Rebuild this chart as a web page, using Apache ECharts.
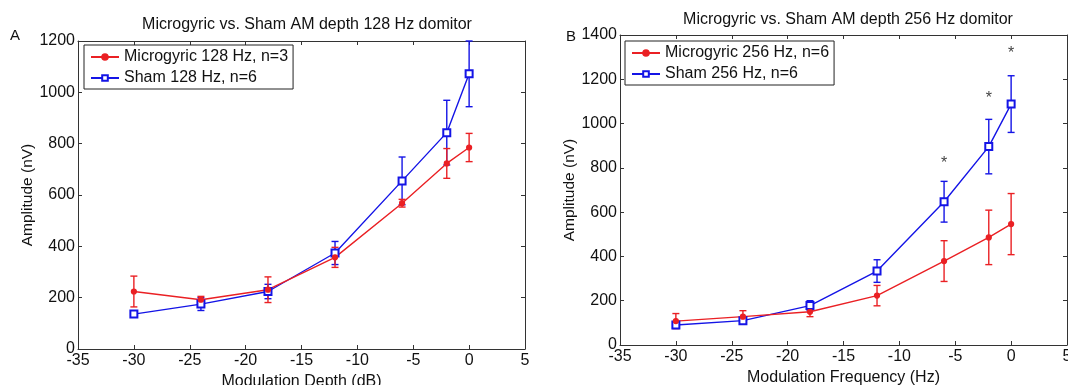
<!DOCTYPE html>
<html><head><meta charset="utf-8">
<script src="https://cdn.jsdelivr.net/npm/echarts@6/dist/echarts.min.js"></script>
<style>html,body{margin:0;padding:0;background:#fff}#c{width:1068px;height:385px}</style>
</head><body><div id="c"></div>
<script>
const xVals = [-30, -24, -18, -12, -6, -2, 0];
const xTicks = [-35, -30, -25, -20, -15, -10, -5, 0, 5];
const mg128 = [224, 192, 231, 357, 568, 723, 785];
const mg128Err = [60, 13, 50, 39, 15, 58, 55];
const sh128 = [136, 175, 224, 374, 655, 843, 1072];
const sh128Err = [8, 25, 28, 45, 93, 126, 128];
const mg256 = [108, 128, 150, 223, 379, 486, 546];
const mg256Err = [34, 27, 22, 46, 92, 123, 138];
const sh256 = [90, 110, 178, 334, 647, 896, 1088];
const sh256Err = [8, 10, 22, 51, 92, 123, 128];
const starX = [-6, -2, 0];
const starY = [835, 1125, 1330];
const names = ['Microgyric 128 Hz, n=3', 'Sham 128 Hz, n=6', 'Microgyric 256 Hz, n=6', 'Sham 256 Hz, n=6'];
const titles = ['Microgyric vs. Sham AM depth 128 Hz domitor', 'Microgyric vs. Sham AM depth 256 Hz domitor'];

const RED = '#ea2024', BLUE = '#1414e6', AX = '#333';
const FONT = 'Liberation Sans, Arial, sans-serif';

const chart = echarts.init(document.getElementById('c'));

function xAx(gi, pos, labels, name) {
  return {
    type: 'value', gridIndex: gi, position: pos, min: xTicks[0], max: xTicks[xTicks.length - 1], interval: 5,
    axisLine: { show: true, onZero: false, lineStyle: { color: AX, width: 1 } },
    axisTick: { show: true, inside: true, length: 4, lineStyle: { color: AX } },
    axisLabel: { show: labels, margin: 4, fontSize: 16, color: '#111', fontFamily: FONT, showMinLabel: true, showMaxLabel: true, hideOverlap: false },
    splitLine: { show: false },
    name: name || '', nameLocation: 'middle', nameGap: 23,
    nameTextStyle: { fontSize: 16, color: '#111', fontFamily: FONT }
  };
}
function yAx(gi, pos, max, labels, name) {
  return {
    type: 'value', gridIndex: gi, position: pos, min: 0, max: max, interval: 200,
    axisLine: { show: true, onZero: false, lineStyle: { color: AX, width: 1 } },
    axisTick: { show: true, inside: true, length: 4, lineStyle: { color: AX } },
    axisLabel: { show: labels, margin: 3, fontSize: 16, color: '#111', fontFamily: FONT, formatter: v => String(v) },
    splitLine: { show: false },
    name: name || '', nameLocation: 'middle', nameGap: 33, nameRotate: 90,
    nameTextStyle: { fontSize: 15.5, color: '#111', fontFamily: FONT }
  };
}

function errSeries(xi, yi, vals, errs, color) {
  return {
    type: 'custom', xAxisIndex: xi, yAxisIndex: yi, z: 3, silent: true,
    data: xVals.map((x, i) => [x, vals[i], errs[i]]),
    encode: { x: 0, y: 1 },
    renderItem: function (params, api) {
      const x = api.value(0), y = api.value(1), e = api.value(2);
      const t = api.coord([x, y + e]), b = api.coord([x, y - e]);
      const w = 3.5, st = { stroke: color, lineWidth: 1.4 };
      return { type: 'group', children: [
        { type: 'line', shape: { x1: t[0], y1: t[1], x2: b[0], y2: b[1] }, style: st },
        { type: 'line', shape: { x1: t[0] - w, y1: t[1], x2: t[0] + w, y2: t[1] }, style: st },
        { type: 'line', shape: { x1: b[0] - w, y1: b[1], x2: b[0] + w, y2: b[1] }, style: st }
      ] };
    }
  };
}
function lineSeries(name, xi, yi, vals, color, sym, size) {
  return {
    name: name, type: 'line', xAxisIndex: xi, yAxisIndex: yi, z: 4,
    data: xVals.map((x, i) => [x, vals[i]]),
    symbol: sym, symbolSize: size, showAllSymbol: true,
    lineStyle: { color: color, width: 1.4 },
    itemStyle: { color: color, borderColor: color, borderWidth: 1.2 },
    emphasis: { disabled: true }
  };
}

const legendBase = {
  orient: 'vertical', selectedMode: false,
  borderColor: '#222', borderWidth: 1, backgroundColor: '#fff', padding: [4, 5, 3, 6], itemGap: 5,
  itemWidth: 28, itemHeight: 7, textStyle: { fontSize: 16, lineHeight: 16, color: '#111', fontFamily: FONT }
};

const option = {
  backgroundColor: '#fff',
  animation: false,
  textStyle: { fontFamily: FONT },
  title: [
    { text: titles[0], left: 302, top: 12, textAlign: 'center', textStyle: { fontSize: 16, fontWeight: 'normal', color: '#111', fontFamily: FONT } },
    { text: titles[1], left: 843, top: 7, textAlign: 'center', textStyle: { fontSize: 16, fontWeight: 'normal', color: '#111', fontFamily: FONT } }
  ],
  grid: [
    { left: 78, top: 41, width: 447, height: 308, show: false, containLabel: false, outerBoundsMode: 'none' },
    { left: 620, top: 35, width: 447, height: 310, show: false, containLabel: false, outerBoundsMode: 'none' }
  ],
  xAxis: [
    xAx(0, 'bottom', true, 'Modulation Depth (dB)'),
    xAx(0, 'top', false),
    xAx(1, 'bottom', true, 'Modulation Frequency (Hz)'),
    xAx(1, 'top', false)
  ],
  yAxis: [
    yAx(0, 'left', 1200, true, 'Amplitude (nV)'),
    yAx(0, 'right', 1200, false),
    yAx(1, 'left', 1400, true, 'Amplitude (nV)'),
    yAx(1, 'right', 1400, false)
  ],
  legend: [
    Object.assign({ data: [names[0], names[1]], left: 84, top: 45 }, legendBase),
    Object.assign({ data: [names[2], names[3]], left: 625, top: 41 }, legendBase)
  ],
  graphic: [
    { type: 'text', left: 10, top: 28, style: { text: 'A', fontSize: 15, fill: '#111', fontFamily: FONT } },
    { type: 'text', left: 566, top: 29, style: { text: 'B', fontSize: 15, fill: '#111', fontFamily: FONT } }
  ],
  series: [
    errSeries(0, 0, sh128, sh128Err, BLUE),
    errSeries(0, 0, mg128, mg128Err, RED),
    lineSeries(names[1], 0, 0, sh128, BLUE, 'emptyRect', 7),
    lineSeries(names[0], 0, 0, mg128, RED, 'circle', 5),
    errSeries(2, 2, sh256, sh256Err, BLUE),
    errSeries(2, 2, mg256, mg256Err, RED),
    lineSeries(names[3], 2, 2, sh256, BLUE, 'emptyRect', 7),
    lineSeries(names[2], 2, 2, mg256, RED, 'circle', 5),
    {
      type: 'custom', xAxisIndex: 2, yAxisIndex: 2, silent: true, z: 5,
      data: starX.map((x, i) => [x, starY[i]]),
      renderItem: function (params, api) {
        const p = api.coord([api.value(0), api.value(1)]);
        return { type: 'text', x: p[0], y: p[1] + 3, style: { text: '*', fontSize: 16, fill: '#444', align: 'center', verticalAlign: 'middle', fontFamily: FONT } };
      }
    }
  ]
};
chart.setOption(option);
</script></body></html>
